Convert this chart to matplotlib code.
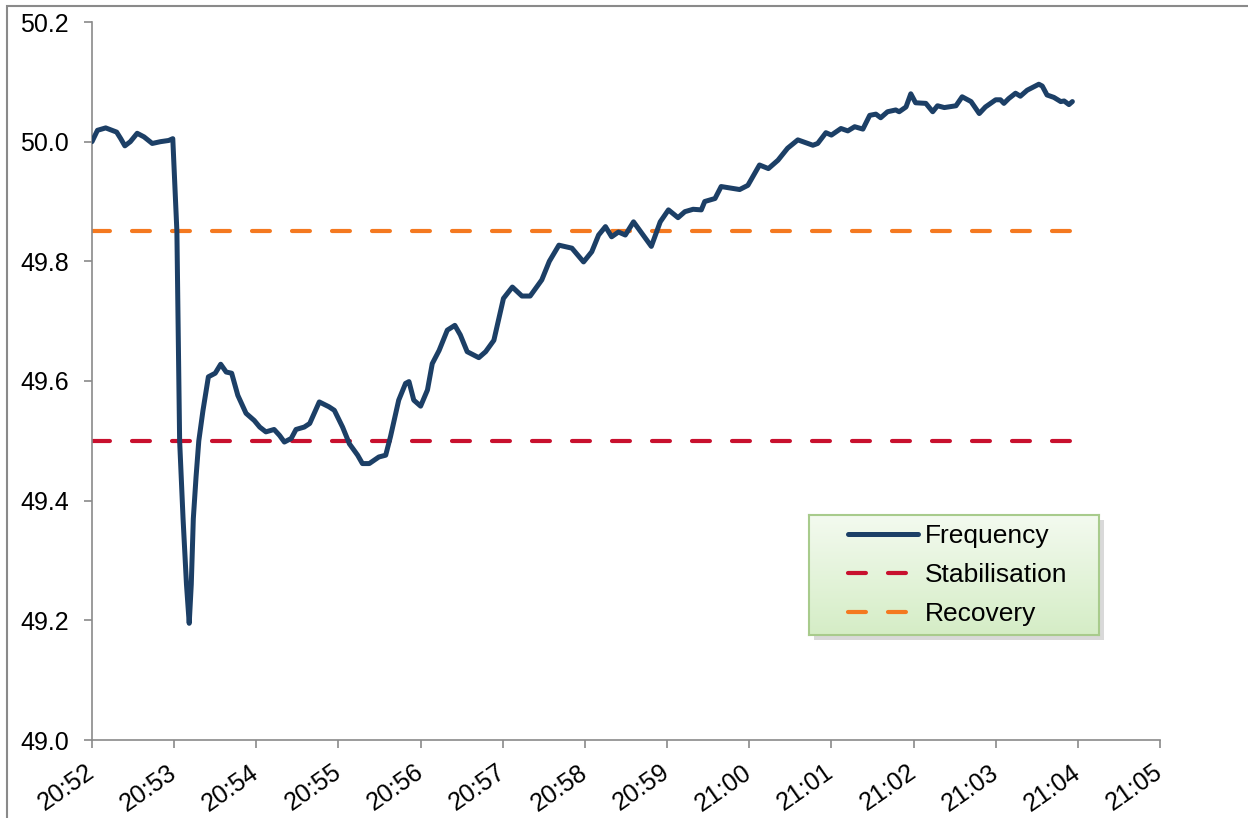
import numpy as np
import pandas as pd
import matplotlib
matplotlib.use("Agg")
import matplotlib.pyplot as plt
import matplotlib.dates as mdates
from matplotlib.patches import Rectangle

plt.rcParams['font.family'] = ['Liberation Sans', 'DejaVu Sans']

# seconds after 20:52:00 and grid frequency (Hz)
t_sec = [0, 4, 10, 18, 21, 24, 28, 33, 38, 44, 50, 56, 59,
         62, 64, 66.5, 69, 71, 72.5, 74, 76, 78, 81, 85,
         90, 94, 98, 102, 106.5, 112.5, 118.5, 122.5, 127, 133, 137,
         140.5, 145.5, 149, 155, 159, 166, 173, 177, 183, 188, 194,
         197.5, 202.5, 209.5, 214.5, 218, 224, 229, 231.5, 235, 240,
         245, 248.5, 253.5, 259.5, 265, 269, 274, 282.5, 287.5, 293.5,
         300.5, 307, 314, 320, 328.5, 334, 341, 350.5, 359, 365, 370,
         375, 379.5, 384.5, 389.5, 395.5, 401.5, 408.5, 415, 421, 428,
         433, 439, 445, 447.5, 455, 459.5, 473, 479, 487.5, 494, 501,
         508, 515.5, 526.5, 530, 536, 540, 547, 552, 557, 563, 568,
         572.5, 576, 581, 587, 589.5, 594.5, 598, 601.5, 609, 614,
         617.5, 622.5, 631, 635.5, 642, 648, 652.5, 660, 663.5, 666,
         669.5, 674.5, 678, 683, 691.5, 694, 697.5, 702.5, 707.5, 710,
         713.5, 716]
freq = [50.000, 50.019, 50.023, 50.016, 50.005, 49.993, 50.000, 50.014, 50.008, 49.997, 50.000, 50.002, 50.005,
        49.850, 49.500, 49.370, 49.260, 49.195, 49.260, 49.370, 49.440, 49.500, 49.550, 49.607,
        49.613, 49.628, 49.615, 49.613, 49.576, 49.546, 49.534, 49.523, 49.515, 49.519, 49.509,
        49.498, 49.504, 49.519, 49.523, 49.529, 49.565, 49.557, 49.551, 49.523, 49.495, 49.476,
        49.462, 49.462, 49.473, 49.476, 49.507, 49.568, 49.596, 49.599, 49.568, 49.558,
        49.585, 49.629, 49.651, 49.685, 49.693, 49.677, 49.649, 49.639, 49.649, 49.668,
        49.738, 49.757, 49.742, 49.742, 49.769, 49.800, 49.827, 49.822, 49.799, 49.816, 49.844,
        49.858, 49.841, 49.849, 49.844, 49.866, 49.847, 49.825, 49.866, 49.886, 49.873,
        49.883, 49.887, 49.886, 49.900, 49.905, 49.925, 49.920, 49.927, 49.961, 49.955, 49.969,
        49.989, 50.003, 49.994, 49.997, 50.015, 50.011, 50.022, 50.018, 50.025, 50.021, 50.044,
        50.046, 50.040, 50.050, 50.053, 50.050, 50.058, 50.080, 50.065, 50.064, 50.050,
        50.060, 50.057, 50.060, 50.075, 50.067, 50.047, 50.058, 50.070, 50.070, 50.064,
        50.072, 50.081, 50.076, 50.086, 50.096, 50.093, 50.078, 50.074, 50.067, 50.068,
        50.062, 50.067]

limit_sec = [0, 716]
stabilisation = [49.5, 49.5]
recovery = [49.85, 49.85]

y_ticks = [49.0, 49.2, 49.4, 49.6, 49.8, 50.0, 50.2]

start = pd.Timestamp("2000-01-01 20:52:00")
times = start + pd.to_timedelta(t_sec, unit="s")
limit_times = start + pd.to_timedelta(limit_sec, unit="s")

navy = "#1C3F66"
red = "#C8102E"
orange = "#F47920"
grey = "#8A8A8A"

W, H = 1248, 818
fig = plt.figure(figsize=(W / 100, H / 100), dpi=100)
ax = fig.add_axes([92 / W, 1 - 740 / H, (1160 - 92) / W, (740 - 22) / H])

ax.plot(times, freq, color=navy, lw=3.6, solid_joinstyle="round",
        solid_capstyle="round", label="Frequency", zorder=3)
ax.plot(limit_times, stabilisation, color=red, lw=3.0, dashes=(4.3, 5.3),
        dash_capstyle="round", label="Stabilisation", zorder=2)
ax.plot(limit_times, recovery, color=orange, lw=3.0, dashes=(4.3, 5.3),
        dash_capstyle="round", label="Recovery", zorder=2)

ax.set_ylim(49.0, 50.2)
ax.set_yticks(y_ticks)
ax.yaxis.set_major_formatter(plt.FormatStrFormatter("%.1f"))
ax.set_xlim(start, start + pd.Timedelta(minutes=13))
ax.xaxis.set_major_locator(mdates.MinuteLocator())
ax.xaxis.set_major_formatter(mdates.DateFormatter("%H:%M"))

for s in ["top", "right"]:
    ax.spines[s].set_visible(False)
for s in ["left", "bottom"]:
    ax.spines[s].set_color(grey)
    ax.spines[s].set_linewidth(1.2)
ax.tick_params(axis="both", colors=grey, labelcolor="black", length=5.5,
               width=1.2)
ax.tick_params(axis="y", pad=11, labelsize=18)
ax.tick_params(axis="x", pad=16, labelsize=18)
for lab in ax.get_xticklabels():
    lab.set_rotation(35)
    lab.set_rotation_mode("anchor")
    lab.set_ha("right")
    lab.set_va("center")

# legend box with green gradient and shadow
lx0, lx1, ly0, ly1 = 809, 1099, 515, 635
shadow = Rectangle(((lx0 + 5) / W, 1 - (ly1 + 5) / H), (lx1 - lx0) / W, (ly1 - ly0) / H,
                   transform=fig.transFigure, facecolor="#A0A0A0", alpha=0.4,
                   edgecolor="none", zorder=4)
fig.add_artist(shadow)
lg_ax = fig.add_axes([lx0 / W, 1 - ly1 / H, (lx1 - lx0) / W, (ly1 - ly0) / H], zorder=5)
grad = np.linspace(0, 1, 100).reshape(-1, 1)
cmap = matplotlib.colors.LinearSegmentedColormap.from_list("g", ["#F3FAEF", "#D5EDC6"])
lg_ax.imshow(grad, aspect="auto", cmap=cmap, extent=[0, 1, 0, 1], origin="upper")
lg_ax.set_xticks([])
lg_ax.set_yticks([])
for s in lg_ax.spines.values():
    s.set_color("#A8CB8C")
    s.set_linewidth(1.5)

leg = lg_ax.legend(*ax.get_legend_handles_labels(), loc="center left",
                   bbox_to_anchor=(0.07, 0.5), frameon=False, fontsize=19,
                   handlelength=2.65, handletextpad=0.28, labelspacing=0.56,
                   borderpad=0.2)

# outer chart border
fig.add_artist(Rectangle((7 / W, -0.1), 1.2, 1.1 - 6.5 / H, transform=fig.transFigure,
                         fill=False, edgecolor=grey, lw=1.5))

fig.savefig("out.png", dpi=100)
